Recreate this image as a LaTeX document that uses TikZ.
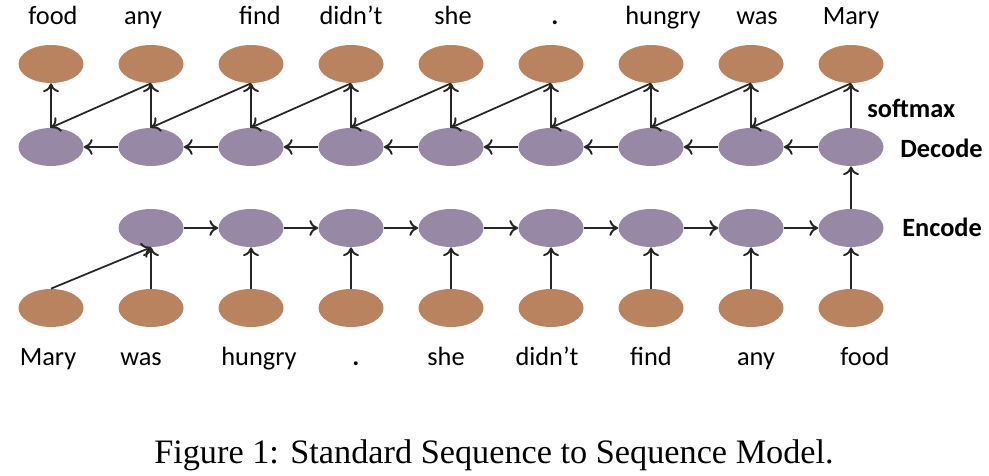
\documentclass[tikz,border=0pt]{standalone}
\usepackage{fontspec}
\setmainfont{Carlito}
\newfontfamily\capfont{Liberation Serif}
\usetikzlibrary{positioning,shapes.geometric,arrows.meta}
\definecolor{wordbrown}{RGB}{185,131,96}
\definecolor{statepurple}{RGB}{151,136,166}
\begin{document}
\begin{tikzpicture}[
  node distance=2cm,
  word/.style={ellipse, fill=wordbrown, minimum width=1.3cm, minimum height=0.76cm, inner sep=0pt},
  state/.style={ellipse, fill=statepurple, minimum width=1.3cm, minimum height=0.76cm, inner sep=0pt},
  txt/.style={font=\fontsize{15}{18}\selectfont, text height=11pt, text depth=3.5pt, inner sep=0pt},
  tag/.style={font=\fontsize{15}{18}\selectfont\bfseries, anchor=base west, inner sep=0pt},
  link/.style={-{To[length=5pt,width=9pt,line width=1.1pt]}, line width=1pt, black!85}
]
\useasboundingbox (0,0) rectangle (19.78,9.5);

% input words and encoder
\node[word] (inp0) at (1.02,3.34) {};
\foreach \i [remember=\i as \j (initially 0)] in {1,...,8}
  \node[word] (inp\i) [right of=inp\j] {};
\foreach \i in {1,...,8}
  \node[state] (enc\i) [above of=inp\i, node distance=1.6cm] {};

% decoder and outputs
\node[state] (dec0) at (1.02,6.56) {};
\foreach \i [remember=\i as \j (initially 0)] in {1,...,8}
  \node[state] (dec\i) [right of=dec\j] {};
\foreach \i in {0,...,8}
  \node[word] (out\i) [above of=dec\i, node distance=1.66cm] {};

% encoder links
\draw[link] (inp0.north) -- (enc1.south);
\foreach \i in {1,...,8}
  \draw[link] (inp\i) -- (enc\i);
\foreach \i [remember=\i as \j (initially 1)] in {2,...,8}
  \draw[link] (enc\j) -- (enc\i);
\draw[link] (enc8) -- (dec8);

% decoder links
\foreach \i [remember=\i as \j (initially 0)] in {1,...,8}
  \draw[link] (dec\i) -- (dec\j);
\foreach \i in {0,...,8}
  \draw[link] (dec\i) -- (out\i);
\foreach \i [remember=\i as \j (initially 0)] in {1,...,8}
  \draw[link] (out\i.south) -- (dec\j.north);

% words
\foreach \w/\dx [count=\i from 0] in {food/0.04, any/-0.16, find/0.18, didn’t/0, she/0.04, \textbf{.}/0.08, hungry/0.24, was/0.12, Mary/0}
  \node[txt] (top\i) at (out\i.north) [above=0.28cm, xshift=\dx cm] {\w};
\foreach \w/\dx [count=\i from 0] in {Mary/-0.06, was/-0.2, hungry/0.16, \textbf{.}/0.1, she/-0.1, didn’t/-0.08, find/0, any/0.1, food/0.28}
  \node[txt] (bot\i) at (inp\i.south) [below=0.37cm, xshift=\dx cm] {\w};

\node[tag] (softmax) at (17.34,7.14) {softmax};
\node[tag] (decode) at (18.0,6.34) {Decode};
\node[tag] (encode) at (18.04,4.76) {Encode};

\node[font=\capfont\fontsize{19.5}{23}\selectfont, anchor=base] (caption) at (9.88,0.24) {Figure 1: Standard Sequence to Sequence Model.};
\end{tikzpicture}
\end{document}
